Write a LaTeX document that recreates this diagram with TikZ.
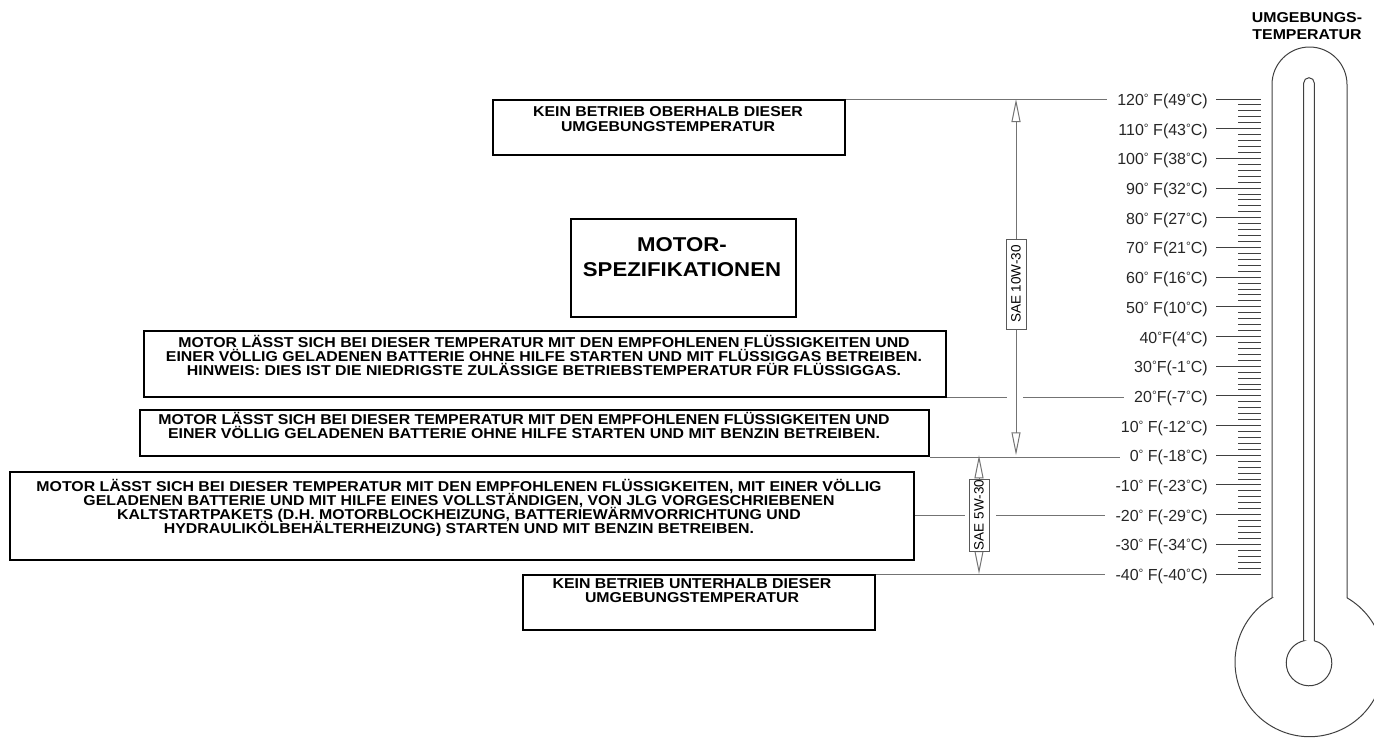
\documentclass[tikz,border=0pt]{standalone}
\usepackage{fontspec}
\setmainfont{Liberation Sans}
\newfontfamily\bx[FakeStretch=1.11]{Liberation Sans}
\usetikzlibrary{arrows.meta}
\newcommand\dg{\raisebox{3pt}{\fontsize{12}{12}\selectfont °}}
\newcommand\tightlines{\lineskiplimit=-30pt\lineskip=0pt}
\begin{document}
\begin{tikzpicture}[x=1pt,y=-1pt,
  box/.style={draw=black, line width=1.8pt, inner sep=0pt, anchor=north west},
  btext/.style={font=\bx\bfseries\fontsize{14.3}{14}\selectfont\tightlines, align=center, anchor=base, inner sep=0pt},
  conn/.style={draw=black!55, line width=1pt},
  temp/.style={font=\fontsize{16}{16}\selectfont, anchor=base east, inner sep=0pt, text=black!85},
  sae/.style={draw=black!65, fill=white, line width=0.8pt, rotate=90, font=\fontsize{13.5}{14}\selectfont, inner sep=0pt, minimum height=20pt},
  therm/.style={draw=black!75, line width=1pt},
  tick/.style={draw=black!75, line width=0.9pt},
  dim/.style={conn, {Triangle[open,length=23pt,width=9pt]}-{Triangle[open,length=23pt,width=9pt]}}
]
\useasboundingbox (0,0) rectangle (1374,737);
\clip (0,0) rectangle (1374,737);

% thermometer
\draw[therm] (1272,597.8) -- (1272,84.5) arc[start angle=180,end angle=0,radius=37.5pt] -- (1347,597.8) arc[start angle=59.8,end angle=-239.8,radius=74.5pt] -- cycle;
\draw[therm] (1303.7,640.8) -- (1303.7,83) arc[start angle=180,end angle=0,radius=5.3pt] -- (1314.3,640.8) arc[start angle=76.6,end angle=-256.6,radius=22.8pt] -- cycle;
\node[btext, font=\bx\bfseries\fontsize{14.3}{17}\selectfont\tightlines] (title) at (1307,39) {UMGEBUNGS-\\TEMPERATUR};

% scale ticks
\foreach \k in {0,...,80} \draw[tick] (1238,{99+\k*5.9375}) -- (1261,{99+\k*5.9375});
\foreach \i/\t in {0/{120\dg\ F(49\dg C)},1/{110\dg\ F(43\dg C)},2/{100\dg\ F(38\dg C)},3/{90\dg\ F(32\dg C)},4/{80\dg\ F(27\dg C)},5/{70\dg\ F(21\dg C)},6/{60\dg\ F(16\dg C)},7/{50\dg\ F(10\dg C)},8/{40\dg F(4\dg C)},9/{30\dg F(-1\dg C)},10/{20\dg F(-7\dg C)},11/{10\dg\ F(-12\dg C)},12/{0\dg\ F(-18\dg C)},13/{-10\dg\ F(-23\dg C)},14/{-20\dg\ F(-29\dg C)},15/{-30\dg\ F(-34\dg C)},16/{-40\dg\ F(-40\dg C)}}{
  \node[temp] (L\i) at (1208,{99+\i*29.6875+6.5}) {\t};
  \draw[tick] (1216,{99+\i*29.6875}) -- (1261,{99+\i*29.6875});
}

% boxes
\node[box, minimum width=352pt, minimum height=55pt] (b1) at (492,99) {};
\node[btext, font=\bx\bfseries\fontsize{14.3}{15}\selectfont\tightlines] (t1) at (668,131) {KEIN BETRIEB OBERHALB DIESER\\UMGEBUNGSTEMPERATUR};
\node[box, minimum width=225pt, minimum height=98pt] (b2) at (570,218) {};
\node[btext, font=\bx\bfseries\fontsize{20}{25}\selectfont\tightlines] (t2) at (682,276) {MOTOR-\\SPEZIFIKATIONEN};
\node[box, minimum width=802pt, minimum height=66pt] (b3) at (143,330) {};
\node[btext] (t3) at (544,375) {MOTOR LÄSST SICH BEI DIESER TEMPERATUR MIT DEN EMPFOHLENEN FLÜSSIGKEITEN UND\\EINER VÖLLIG GELADENEN BATTERIE OHNE HILFE STARTEN UND MIT FLÜSSIGGAS BETREIBEN.\\HINWEIS: DIES IST DIE NIEDRIGSTE ZULÄSSIGE BETRIEBSTEMPERATUR FÜR FLÜSSIGGAS.};
\node[box, minimum width=789pt, minimum height=46.25pt] (b4) at (139,409) {};
\node[btext] (t4) at (524,438) {MOTOR LÄSST SICH BEI DIESER TEMPERATUR MIT DEN EMPFOHLENEN FLÜSSIGKEITEN UND\\EINER VÖLLIG GELADENEN BATTERIE OHNE HILFE STARTEN UND MIT BENZIN BETREIBEN.};
\node[box, minimum width=904pt, minimum height=88pt] (b5) at (9,471) {};
\node[btext] (t5) at (459,533) {MOTOR LÄSST SICH BEI DIESER TEMPERATUR MIT DEN EMPFOHLENEN FLÜSSIGKEITEN, MIT EINER VÖLLIG\\GELADENEN BATTERIE UND MIT HILFE EINES VOLLSTÄNDIGEN, VON JLG VORGESCHRIEBENEN\\KALTSTARTPAKETS (D.H. MOTORBLOCKHEIZUNG, BATTERIEWÄRMVORRICHTUNG UND\\HYDRAULIKÖLBEHÄLTERHEIZUNG) STARTEN UND MIT BENZIN BETREIBEN.};
\node[box, minimum width=352pt, minimum height=55pt] (b6) at (522,574) {};
\node[btext] (t6) at (692,602) {KEIN BETRIEB UNTERHALB DIESER\\UMGEBUNGSTEMPERATUR};

% dimension arrows
\coordinate (a10t) at (1016,99);
\coordinate (a10b) at (1016,455.25);
\coordinate (a5t) at (979,455.25);
\coordinate (a5b) at (979,574);
\draw[dim] (a10t) -- (a10b);
\draw[dim] (a5t) -- (a5b);
\node[sae, minimum width=90pt] (sae10) at (1016,284) {SAE 10W-30};
\node[sae, minimum width=72pt] (sae5) at (979,515) {SAE 5W-30};

% connectors to scale
\draw[conn, shorten >=10pt] (b1.north east) -- (b1.north east -| L0.west);
\draw[conn] (b3.south east) -- ([xshift=-9pt]b3.south east -| a10t);
\draw[conn, shorten >=10pt] ([xshift=7pt]b3.south east -| a10t) -- (b3.south east -| L10.west);
\draw[conn, shorten >=10pt] (b4.south east) -- (b4.south east -| L12.west);
\draw[conn] (b5.east) -- ([xshift=-14pt]b5.east -| sae5.center);
\draw[conn, shorten >=10pt] ([xshift=17pt]b5.east -| sae5.center) -- (b5.east -| L14.west);
\draw[conn, shorten >=10pt] (b6.north east) -- (b6.north east -| L16.west);
\end{tikzpicture}
\end{document}
